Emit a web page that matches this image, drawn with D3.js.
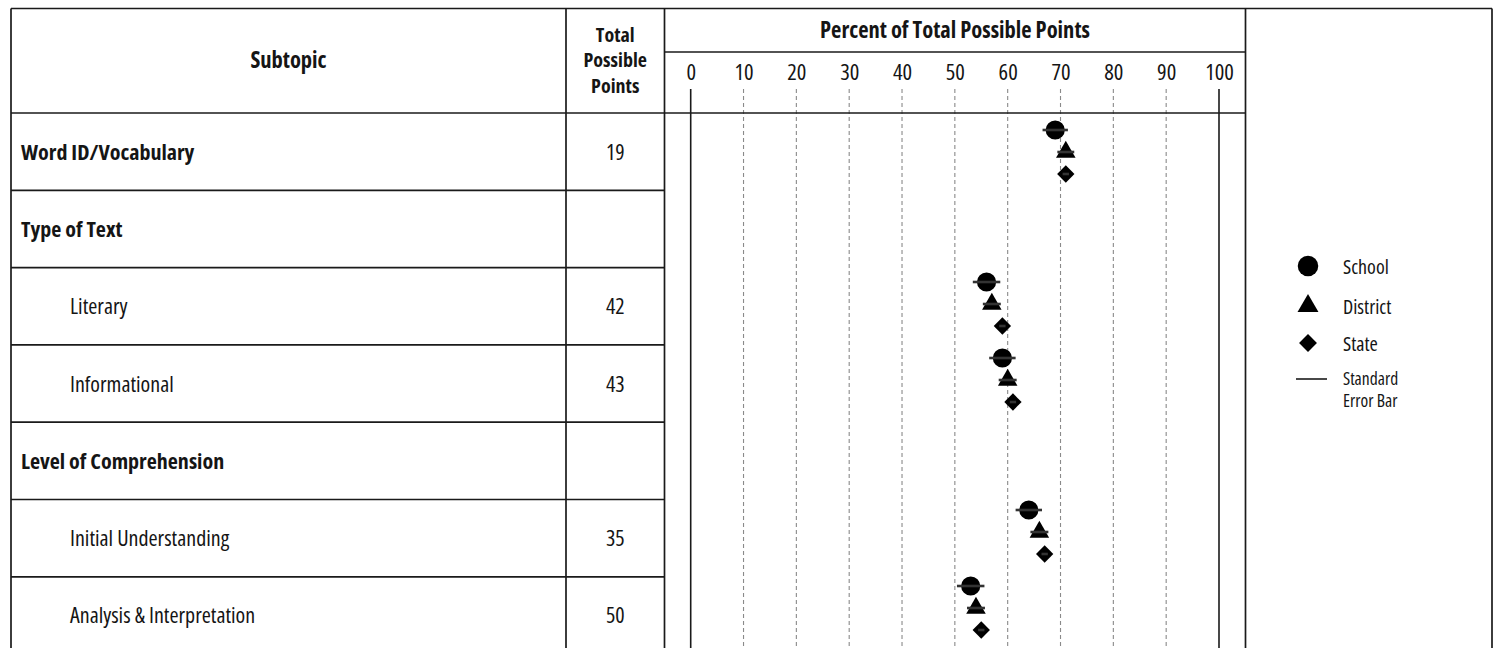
<!DOCTYPE html>
<html>
<head>
<meta charset="utf-8">
<script src="https://cdn.jsdelivr.net/npm/d3@7"></script>
<style>
  body { margin: 0; background: #fff; }
  svg { display: block; }
  text { font-family: "Open Sans", "Lato", sans-serif; font-stretch: 75%; fill: #151515; }
</style>
</head>
<body>
<svg id="chart" width="1495" height="648"></svg>
<script>
// ---------- data ----------
const subtopics = ["Word ID/Vocabulary", "Type of Text", "Literary", "Informational",
                   "Level of Comprehension", "Initial Understanding", "Analysis & Interpretation"];
const levels = [0, 0, 1, 1, 0, 1, 1];          // 0 = heading row, 1 = sub-row
const totalPoints = [19, null, 42, 43, null, 35, 50];
const schoolPct   = [69, null, 56, 59, null, 64, 53];
const schoolSE    = [2.4, null, 2.6, 2.5, null, 2.5, 2.6];
const districtPct = [71, null, 57, 60, null, 66, 54];
const districtSE  = [1.6, null, 1.7, 1.7, null, 1.7, 1.7];
const statePct    = [71, null, 59, 61, null, 67, 55];
const stateSE     = [0.6, null, 0.6, 0.6, null, 0.6, 0.6];
const tickValues  = [0, 10, 20, 30, 40, 50, 60, 70, 80, 90, 100];
const legendLabels = ["School", "District", "State"];
const errorLegend = ["Standard", "Error Bar"];
const pointsHeader = ["Total", "Possible", "Points"];

// ---------- layout ----------
const W = 1495, H = 648;
const L = 11, T = 8.5, R = 1492;
const colSub = 566, colPts = 664.5, colLegend = 1245.5;
const headMid = 52, headBot = 113;

const svg = d3.select("#chart");
const ink = "#1a1a1a";

const x = d3.scaleLinear().domain([0, 100]).range([690.7, 1219]);
const rowY = d3.scaleBand().domain(d3.range(subtopics.length)).range([headBot, headBot + 77.3 * 7]);
const ptY = d3.scaleBand().domain(d3.range(subtopics.length)).range([114, 114 + 76 * 7]);

// grid lines
const grid = svg.append("g");
grid.selectAll("line").data(tickValues).join("line")
  .attr("x1", d => x(d)).attr("x2", d => x(d))
  .attr("y1", 89).attr("y2", H)
  .attr("stroke", d => (d === 0 || d === 100) ? ink : "#8a8a8a")
  .attr("stroke-width", d => (d === 0 || d === 100) ? 1.6 : 1.1)
  .attr("stroke-dasharray", d => (d === 0 || d === 100) ? null : "4,3");

// axis tick labels
const axis = d3.axisTop(x).tickValues(tickValues).tickSize(0).tickPadding(0);
const ax = svg.append("g").attr("transform", "translate(0,80)").call(axis);
ax.select(".domain").remove();
ax.attr("font-family", null).attr("font-size", null);
ax.selectAll("text").attr("font-size", 22.5).attr("fill", "#151515").attr("dy", 0);

// table lines
const lines = svg.append("g").attr("stroke", ink).attr("stroke-width", 1.7).attr("fill", "none");
lines.append("line").attr("x1", L).attr("x2", R).attr("y1", T).attr("y2", T);
lines.append("line").attr("x1", L).attr("x2", L).attr("y1", T).attr("y2", H);
lines.append("line").attr("x1", R).attr("x2", R).attr("y1", T).attr("y2", H);
[colSub, colPts, colLegend].forEach(cx =>
  lines.append("line").attr("x1", cx).attr("x2", cx).attr("y1", T).attr("y2", H));
lines.append("line").attr("x1", colPts).attr("x2", colLegend).attr("y1", headMid).attr("y2", headMid);
lines.append("line").attr("x1", L).attr("x2", colLegend).attr("y1", headBot).attr("y2", headBot);
lines.selectAll(".row").data(d3.range(1, subtopics.length)).join("line")
  .attr("x1", L).attr("x2", colPts)
  .attr("y1", i => rowY(i)).attr("y2", i => rowY(i));

// headers
const hdr = svg.append("g").attr("font-weight", "bold").attr("font-size", 22.5).attr("text-anchor", "middle");
hdr.append("text").attr("x", (L + colSub) / 2).attr("y", 68).text("Subtopic");
pointsHeader.forEach((t, i) =>
  hdr.append("text").attr("x", (colSub + colPts) / 2).attr("y", 41.5 + i * 25.5)
    .attr("font-size", 20).text(t));
hdr.append("text").attr("x", (colPts + colLegend) / 2).attr("y", 38).text("Percent of Total Possible Points");

// row labels
svg.append("g").selectAll("text").data(subtopics).join("text")
  .attr("x", (d, i) => levels[i] === 0 ? 21 : 70)
  .attr("y", (d, i) => rowY(i) + rowY.bandwidth() / 2 + 8)
  .attr("font-size", 22)
  .attr("font-weight", (d, i) => levels[i] === 0 ? "bold" : "normal")
  .text(d => d);

svg.append("g").selectAll("text").data(totalPoints).join("text")
  .attr("x", (colSub + colPts) / 2)
  .attr("y", (d, i) => rowY(i) + rowY.bandwidth() / 2 + 8)
  .attr("text-anchor", "middle").attr("font-size", 22)
  .text(d => d == null ? "" : d);

// markers
const series = [
  { vals: schoolPct, se: schoolSE, sym: d3.symbolCircle, size: 290, rot: 0, off: -22 },
  { vals: districtPct, se: districtSE, sym: d3.symbolTriangle, size: 165, rot: 0, off: 0 },
  { vals: statePct, se: stateSE, sym: d3.symbolSquare, size: 150, rot: 45, off: 22 }
];
const marks = svg.append("g");
series.forEach(s => {
  const pts = s.vals.map((v, i) => ({ v, se: s.se[i], i })).filter(d => d.v != null);
  const cy = d => ptY(d.i) + ptY.bandwidth() / 2 + s.off;
  marks.append("g").selectAll("path").data(pts).join("path")
    .attr("d", d3.symbol().type(s.sym).size(s.size))
    .attr("transform", d => `translate(${x(d.v)},${cy(d)}) rotate(${s.rot})`)
    .attr("fill", "#000");
  marks.append("g").selectAll("line").data(pts).join("line")
    .attr("x1", d => x(d.v - d.se)).attr("x2", d => x(d.v + d.se))
    .attr("y1", cy).attr("y2", cy)
    .attr("stroke", "#333").attr("stroke-width", 2.6);
});

// legend
const lg = svg.append("g");
const legSyms = [
  { sym: d3.symbolCircle, size: 330, rot: 0, y: 266 },
  { sym: d3.symbolTriangle, size: 190, rot: 0, y: 306 },
  { sym: d3.symbolSquare, size: 160, rot: 45, y: 343 }
];
legSyms.forEach((s, i) => {
  lg.append("path").attr("d", d3.symbol().type(s.sym).size(s.size)())
    .attr("transform", `translate(1308,${s.y}) rotate(${s.rot})`).attr("fill", "#000");
  lg.append("text").attr("x", 1343).attr("y", s.y + 7.5).attr("font-size", 20).text(legendLabels[i]);
});
lg.append("line").attr("x1", 1296).attr("x2", 1327).attr("y1", 379).attr("y2", 379)
  .attr("stroke", ink).attr("stroke-width", 1.6);
errorLegend.forEach((t, i) =>
  lg.append("text").attr("x", 1343).attr("y", 385 + i * 22).attr("font-size", 17.5).text(t));
</script>
</body>
</html>
